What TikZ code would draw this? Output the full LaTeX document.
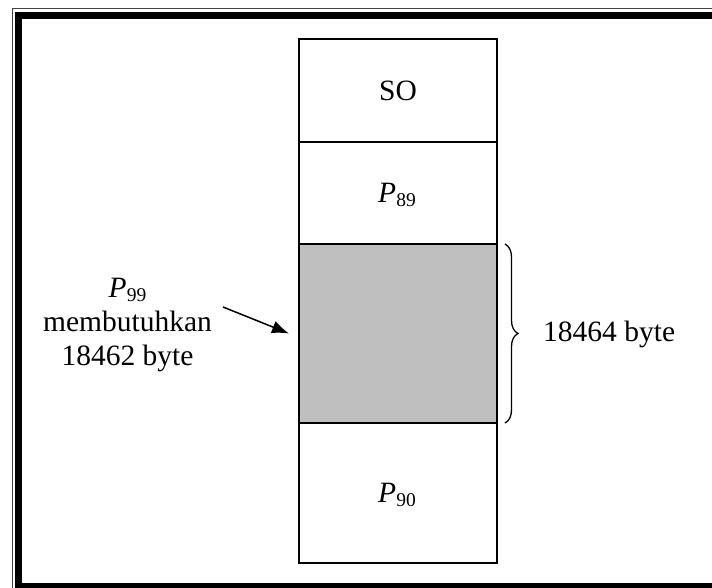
\documentclass[tikz,border=0pt]{standalone}
\usepackage{fontspec}
\setmainfont{Liberation Serif}
\usetikzlibrary{arrows.meta,decorations.pathreplacing}
\newcommand\mysub[1]{\raisebox{-4pt}{\fontsize{19.5}{19.5}\selectfont #1}}
\newcommand\procname[1]{{\itshape P}\mysub{#1}}
\begin{document}
\begin{tikzpicture}[x=1pt,y=-1pt,
  every node/.style={font=\fontsize{29.5}{34}\selectfont, inner sep=0pt},
  membox/.style={draw, line width=1.5pt, minimum width=198pt, anchor=center},
  arr/.style={line width=1.5pt, -{Latex[length=17pt,width=13pt]}},
  bracestyle/.style={decorate, decoration={brace, amplitude=13pt}, line width=1.3pt}]
\useasboundingbox (0,0) rectangle (712,588);
\clip (0,0) rectangle (712,588);
% frame
\draw[line width=1.3pt, black!75] (12.5,8.5) rectangle (740,620);
\draw[line width=7pt] (18.5,15.5) rectangle (735,586.5);
% memory blocks
\node[membox, minimum height=103pt] (so) at (398,90.5) {SO};
\node[membox, minimum height=102pt] (p89) at (398,193) {};
\node at (397,195) {\procname{89}};
\node[membox, minimum height=140pt] (p90) at (398,493) {};
\node at (397,495) {\procname{90}};
\node[membox, minimum height=179pt, fill=black!25, line width=2pt] (hole) at (398,333.5) {};
% left label
\node[align=center] (lbl) at (127.5,325) {\procname{99}\\membutuhkan\\18462 byte};
\coordinate (astart) at (223,307);
\draw[arr] (astart) -- ([xshift=-9pt]hole.west);
% brace
\coordinate (btop) at (505,244);
\coordinate (bbot) at (505,423);
\draw[bracestyle] (btop) -- (bbot);
\node[anchor=west] (size) at (543,334) {18464 byte};
\end{tikzpicture}
\end{document}
